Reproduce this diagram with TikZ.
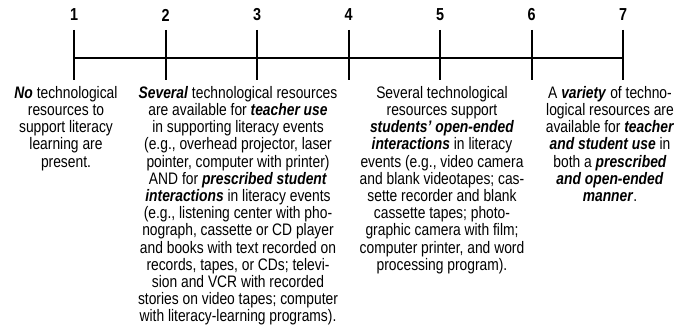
\documentclass[tikz,border=0pt]{standalone}
\usepackage{fontspec}
\setmainfont{Liberation Sans}[FakeStretch=0.83]
\newcommand{\keyword}[1]{\textbf{\textit{#1}}}
\begin{document}
\begin{tikzpicture}[x=0.75pt, y=-0.75pt,
    desc/.style={align=center, anchor=north, inner sep=0pt,
      font=\fontsize{12.5}{12.9}\selectfont},
    num/.style={font=\bfseries\fontsize{13}{14}\selectfont}]

    % Fix the page size
    \useasboundingbox (0, 0) rectangle (678, 327);

    % Draw the scale line
    \draw[line width=1.8pt] (74, 58) -- (623, 58);

    % Draw ticks and their numbers
    \foreach \n/\x in {1/74, 2/165.5, 3/257, 4/348.5, 5/440, 6/531.5, 7/623}{
      \node[num] (num\n) at (\x, 15) {\n};
      \draw[line width=1.5pt] (\x, 30) -- (\x, 80);
    }

    % Draw descriptions
    \node[desc] (descA) at (66, 86) {\keyword{No} technological\\
      resources to\\ support literacy\\ learning are\\ present.};
    \node[desc] (descB) at (238, 86) {\keyword{Several} technological resources\\
      are available for \keyword{teacher use}\\
      in supporting literacy events\\
      (e.g., overhead projector, laser\\
      pointer, computer with printer)\\
      AND for \keyword{prescribed student}\\
      \keyword{interactions} in literacy events\\
      (e.g., listening center with pho-\\
      nograph, cassette or CD player\\
      and books with text recorded on\\
      records, tapes, or CDs; televi-\\
      sion and VCR with recorded\\
      stories on video tapes; computer\\
      with literacy-learning programs).};
    \node[desc] (descC) at (442, 86) {Several technological\\
      resources support\\
      \keyword{students' open-ended}\\
      \keyword{interactions} in literacy\\
      events (e.g., video camera\\
      and blank videotapes; cas-\\
      sette recorder and blank\\
      cassette tapes; photo-\\
      graphic camera with film;\\
      computer printer, and word\\
      processing program).};
    \node[desc] (descD) at (610, 86) {A \keyword{variety} of techno-\\
      logical resources are\\
      available for \keyword{teacher}\\
      \keyword{and student use} in\\
      both a \keyword{prescribed}\\
      \keyword{and open-ended}\\
      \keyword{manner}.};

  \end{tikzpicture}
\end{document}
